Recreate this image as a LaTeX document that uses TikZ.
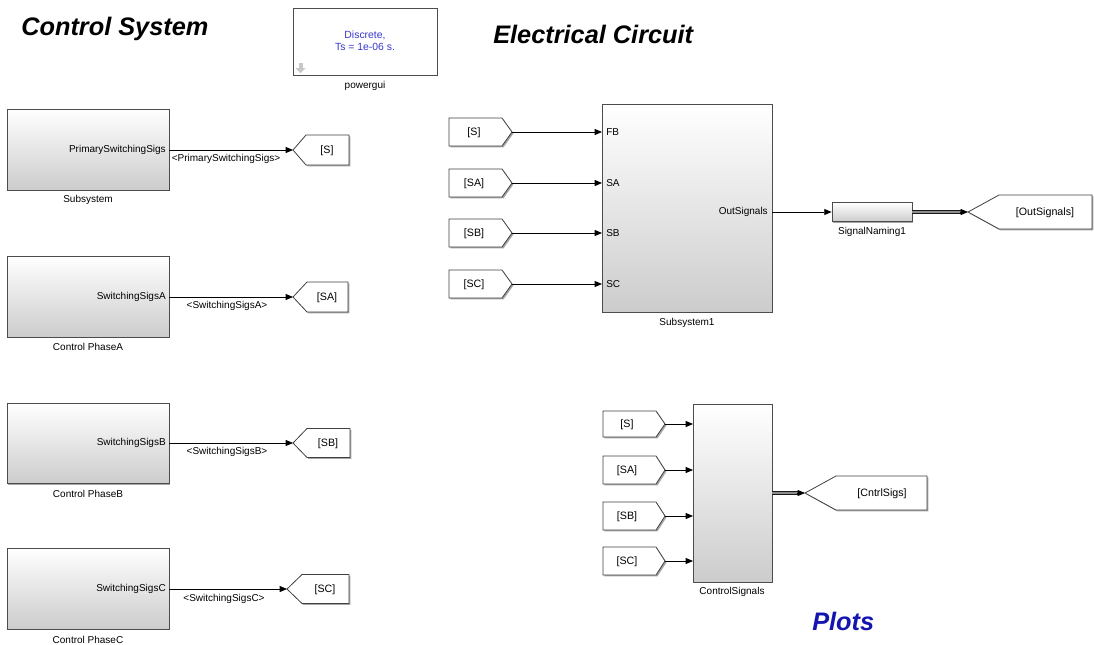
\documentclass[tikz,border=0pt]{standalone}
\usepackage{fontspec}
\setmainfont{Liberation Sans}
\usetikzlibrary{arrows.meta,shadows}
\definecolor{plotblue}{RGB}{20,20,175}
\definecolor{gblue}{RGB}{55,55,205}
\tikzset{
  shad/.style={drop shadow={shadow xshift=1.1pt,shadow yshift=-1.1pt,fill=black,opacity=0.35}},
  blk/.style={draw=black!70, line width=0.6pt, top color=white, bottom color=black!20, shad, inner sep=0pt},
  pgbox/.style={draw=black!70, line width=0.6pt, fill=white, shad, inner sep=0pt},
  tag/.style={draw=black!75, line width=0.6pt, fill=white, shad},
  lbl/.style={font=\fontsize{7.5}{9}\selectfont, inner sep=0pt},
  tlbl/.style={font=\fontsize{8}{9.5}\selectfont, inner sep=0pt, anchor=base},
  title/.style={font=\fontsize{19}{22}\selectfont\bfseries\itshape, inner sep=0pt},
  sig/.style={draw=black, line width=0.6pt, -{Triangle[length=5.5pt,width=4.5pt]}},
  bus/.style={draw=black!90, line width=0.75pt, double=black!45, double distance=1.1pt},
}
% goto tag pointing left: name, tipx, y, cornerx, rightx, half, text, textx
\newcommand{\gotoL}[8]{%
  \draw[tag] (#2,#3) -- (#4,#3-#6) -- (#5,#3-#6) -- (#5,#3+#6) -- (#4,#3+#6) -- cycle;
  \coordinate (#1) at (#2,#3);
  \node[tlbl] (#1t) at (#8,#3+3.8) {#7};
}
% from tag pointing right: name, leftx, y, cornerx, tipx, half, text, textx
\newcommand{\fromR}[8]{%
  \draw[tag] (#2,#3-#6) -- (#4,#3-#6) -- (#5,#3) -- (#4,#3+#6) -- (#2,#3+#6) -- cycle;
  \coordinate (#1) at (#5,#3);
  \node[tlbl] (#1t) at (#8,#3+3.8) {#7};
}
\begin{document}
\begin{tikzpicture}[x=0.75pt,y=-0.75pt]
\useasboundingbox (0,0) rectangle (1094,644);

% titles
\node[title, anchor=base west] (tcs) at (21,35) {Control System};
\node[title, anchor=base west] (tec) at (493,43) {Electrical Circuit};
\node[title, text=plotblue, anchor=base west] (tpl) at (812,630) {Plots};

% powergui
\node[pgbox, minimum width=108pt, minimum height=50.25pt] (pg) at (365,41.5) {};
\node[lbl, text=gblue, align=center, font=\fontsize{7.8}{9}\selectfont] (pgt) at (365,41) {Discrete,\\Ts = 1e-06 s.};
\fill[black!22] (298.5,63) rectangle (302.5,68);
\fill[black!22] (295.5,68) -- (305.5,68) -- (300.5,73) -- cycle;
\node[lbl] (pgl) at (365,86) {powergui};

% control system column
\node[blk, minimum width=121.5pt, minimum height=60.75pt] (sub) at (88,149.5) {};
\node[lbl, anchor=east] (subp) at (166,150) {PrimarySwitchingSigs};
\node[lbl] (subn) at (88,200) {Subsystem};
\gotoL{gS}{293}{150}{306}{349}{15}{[S]}{327}
\draw[sig] (sub.east |- gS) -- (gS);
\node[lbl] (subs) at (226,158.5) {<PrimarySwitchingSigs>};

\node[blk, minimum width=121.5pt, minimum height=60.75pt] (pa) at (88,296.5) {};
\node[lbl, anchor=east] (pap) at (166,297) {SwitchingSigsA};
\node[lbl] (pan) at (88,347) {Control PhaseA};
\gotoL{gSA}{293}{297}{307}{348}{15}{[SA]}{327}
\draw[sig] (pa.east |- gSA) -- (gSA);
\node[lbl] (pas) at (227,305.5) {<SwitchingSigsA>};

\node[blk, minimum width=121.5pt, minimum height=60pt] (pb) at (88,443.5) {};
\node[lbl, anchor=east] (pbp) at (166,443) {SwitchingSigsB};
\node[lbl] (pbn) at (88,494) {Control PhaseB};
\gotoL{gSB}{293}{443}{307}{350}{14.5}{[SB]}{328}
\draw[sig] (pb.east |- gSB) -- (gSB);
\node[lbl] (pbs) at (227,452) {<SwitchingSigsB>};

\node[blk, minimum width=121.5pt, minimum height=60.75pt] (pc) at (88,588.5) {};
\node[lbl, anchor=east] (pcp) at (166,589) {SwitchingSigsC};
\node[lbl] (pcn) at (88,640) {Control PhaseC};
\gotoL{gSC}{287}{589}{302}{349}{14.5}{[SC]}{325}
\draw[sig] (pc.east |- gSC) -- (gSC);
\node[lbl] (pcs) at (224,598.5) {<SwitchingSigsC>};

% electrical circuit
\node[blk, minimum width=127.5pt, minimum height=156pt] (s1) at (687,208) {};
\node[lbl] (s1n) at (687,323) {Subsystem1};
\coordinate (s1fb) at (602,132);
\coordinate (s1sa) at (602,183);
\coordinate (s1sb) at (602,233);
\coordinate (s1sc) at (602,284);
\node[lbl, anchor=west] (s1pfb) at (606,132) {FB};
\node[lbl, anchor=west] (s1psa) at (606,183) {SA};
\node[lbl, anchor=west] (s1psb) at (606,233) {SB};
\node[lbl, anchor=west] (s1psc) at (606,284) {SC};
\node[lbl, anchor=east] (s1out) at (768,212) {OutSignals};
\fromR{fS}{449}{132}{502}{512}{14}{[S]}{474}
\fromR{fSA}{449}{183}{502}{512}{14}{[SA]}{474}
\fromR{fSB}{449}{233}{502}{512}{14}{[SB]}{474}
\fromR{fSC}{449}{284}{502}{512}{14}{[SC]}{474}
\draw[sig] (fS) -- (s1fb);
\draw[sig] (fSA) -- (s1sa);
\draw[sig] (fSB) -- (s1sb);
\draw[sig] (fSC) -- (s1sc);

\node[blk, minimum width=60pt, minimum height=14.25pt] (sn) at (872,212) {};
\node[lbl] (snn) at (872,232) {SignalNaming1};
\draw[sig] (s1.east |- sn.west) -- (sn.west);
\gotoL{gOut}{968}{212}{999}{1092}{17}{[OutSignals]}{1045}
\draw[bus] (sn.east) -- ([xshift=-4pt]gOut);
\draw[sig] ([xshift=-6pt]gOut) -- (gOut);

% plots
\node[blk, minimum width=59.25pt, minimum height=133.5pt] (cs) at (732.5,493) {};
\node[lbl] (csn) at (732,592) {ControlSignals};
\coordinate (csi1) at (693,424);
\coordinate (csi2) at (693,470);
\coordinate (csi3) at (693,516);
\coordinate (csi4) at (693,561);
\fromR{pS}{603}{424}{656}{665}{13}{[S]}{627}
\fromR{pSA}{603}{470}{656}{665}{14}{[SA]}{627}
\fromR{pSB}{603}{516}{656}{665}{14}{[SB]}{627}
\fromR{pSC}{603}{561}{656}{665}{14}{[SC]}{627}
\draw[sig] (pS) -- (csi1);
\draw[sig] (pSA) -- (csi2);
\draw[sig] (pSB) -- (csi3);
\draw[sig] (pSC) -- (csi4);
\gotoL{gCS}{805}{493}{836}{927}{17}{[CntrlSigs]}{882}
\draw[bus] (cs.east |- gCS) -- ([xshift=-4pt]gCS);
\draw[sig] ([xshift=-6pt]gCS) -- (gCS);
\end{tikzpicture}
\end{document}
